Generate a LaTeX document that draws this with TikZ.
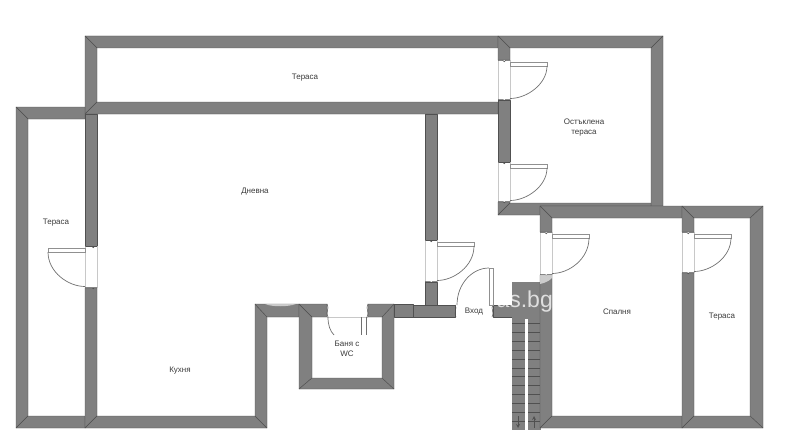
\documentclass[tikz,border=0pt]{standalone}
\usepackage{fontspec}
\setmainfont{Liberation Sans}
\definecolor{wallgray}{HTML}{808080}
\definecolor{walledge}{HTML}{505050}
\definecolor{doorgray}{HTML}{707070}
\definecolor{leafgray}{HTML}{909090}
\definecolor{jambgray}{HTML}{C8C8C8}
\definecolor{labelgray}{HTML}{3A3A3A}
\tikzset{
  wall/.style={fill=wallgray,draw=walledge,line width=0.4pt,line join=round},
  leaf/.style={draw=leafgray,line width=0.7pt},
  swing/.style={draw=doorgray,line width=0.7pt},
  jamb/.style={draw=jambgray,line width=0.8pt},
  notch/.style={draw=walledge,line width=0.5pt},
  room/.style={text=labelgray,font=\fontsize{8}{10.2}\selectfont,align=center,inner sep=0pt},
}
\begin{document}
\begin{tikzpicture}[x=1pt,y=-1pt]
\useasboundingbox (0,0) rectangle (800,444);
% top terrace
\draw[wall] (85,36)--(498,36)--(498,48)--(97,48)--cycle;
\draw[wall] (85,36)--(97,48)--(97,102)--(85,114)--cycle;
\draw[wall] (85,114)--(97,102)--(498,102)--(498,114)--cycle;
% glazed terrace
\draw[wall] (498,36)--(663,36)--(651,48)--(510,48)--cycle;
\draw[wall] (663,36)--(663,206)--(651,206)--(651,48)--cycle;
\draw[wall] (498,36)--(510,48)--(510,60)--(498,60)--cycle;
\draw[wall] (498,100)--(510,100)--(510,162)--(498,162)--cycle;
\draw[wall] (498,202)--(510,202)--(510,203)--(498,215)--cycle;
\draw[wall] (498,215)--(510,203)--(651,203)--(651,206)--(540,206)--(540,215)--cycle;
% left terrace
\draw[wall] (16,107)--(85,107)--(85,119)--(28,119)--cycle;
\draw[wall] (16,107)--(28,119)--(28,416)--(16,428)--cycle;
\draw[wall] (16,428)--(28,416)--(85,416)--(85,428)--cycle;
% living room and kitchen
\draw[wall] (85,114)--(97,114)--(97,246)--(85,246)--cycle;
\draw[wall] (85,288)--(97,288)--(97,416)--(85,428)--cycle;
\draw[wall] (85,428)--(97,416)--(255,416)--(267,428)--cycle;
\draw[wall] (255,304)--(267,317)--(267,428)--(255,416)--cycle;
\draw[wall] (255,304)--(299,304)--(299,317)--(267,317)--cycle;
\draw[wall] (425,114)--(437,114)--(437,240)--(425,240)--cycle;
\draw[wall] (425,282)--(437,282)--(437,305)--(425,305)--cycle;
% bathroom
\draw[wall] (299,304)--(312,317)--(312,378)--(299,389)--cycle;
\draw[wall] (299,389)--(312,378)--(382,378)--(394,389)--cycle;
\draw[wall] (394,304)--(394,389)--(382,378)--(382,317)--cycle;
\draw[wall] (299,304)--(327,304)--(327,317)--(312,317)--cycle;
\draw[wall] (368,304)--(394,304)--(382,317)--(368,317)--cycle;
\draw[wall] (394,304)--(413,304)--(413,317)--(394,317)--cycle;
\draw[wall] (413,305)--(455,305)--(455,317)--(413,317)--cycle;
\draw[wall] (493,305)--(512,305)--(512,317)--(493,317)--cycle;
% stairs
\fill[wallgray] (512,282) rectangle (541,319);
\fill[wallgray] (512,319) rectangle (525,430);
\fill[wallgray] (528,319) rectangle (541,430);
\foreach \s in {0,...,11}
  \draw[walledge,line width=0.5pt] (512,323.3+8.9*\s)--(525,323.3+8.9*\s) (528,323.3+8.9*\s)--(541,323.3+8.9*\s);
\draw[walledge,line width=0.8pt,->,>=stealth] (518,416)--(518,428);
\draw[walledge,line width=0.8pt,->,>=stealth] (534,428)--(534,416);
% bedroom
\draw[wall] (540,206)--(682,206)--(682,218)--(552,218)--cycle;
\draw[wall] (540,206)--(552,218)--(552,232)--(540,232)--cycle;
\draw[wall] (540,275)--(552,275)--(552,416)--(540,428)--cycle;
\draw[wall] (540,428)--(552,416)--(682,416)--(682,428)--cycle;
% right terrace
\draw[wall] (682,206)--(694,218)--(694,232)--(682,232)--cycle;
\draw[wall] (682,273)--(694,273)--(694,416)--(682,428)--cycle;
\draw[wall] (682,206)--(763,206)--(750,218)--(694,218)--cycle;
\draw[wall] (763,206)--(763,428)--(750,416)--(750,218)--cycle;
\draw[wall] (682,428)--(694,416)--(750,416)--(763,428)--cycle;
% doors
\foreach \x/\d/\a/\b in {510/1/60/100,510/1/162/202,437/1/240/282,552/1/232/275,694/1/232/273,85/-1/246/288}{
  \draw[jamb] (\x,\a)--(\x,\b) (\x-\d*12,\a)--(\x-\d*12,\b);
  \draw[notch] (\x-\d*12,\a+0.5)--(\x-\d*7,\a+0.5) arc[start angle=180,end angle=0,radius=1.2]--(\x,\a+0.5);
  \draw[notch] (\x-\d*12,\b-0.5)--(\x-\d*7,\b-0.5) arc[start angle=180,end angle=0,radius=1.2]--(\x,\b-0.5);
  \draw[leaf] (\x,\a+2.5) rectangle (\x+\d*37,\a+6);
  \draw[swing] (\x+\d*37,\a+6) .. controls (\x+\d*37,\b-16) and (\x+\d*17,\b-1.5) .. (\x,\b-1.5);
}
% entrance door
\draw[notch] (455,305) .. controls (458,308) and (453,313) .. (456,317);
\draw[notch] (493,305) .. controls (490,308) and (495,313) .. (492,317);
\draw[leaf] (489,268) rectangle (493,305);
\draw[swing] (489,268) .. controls (472,268) and (457,284) .. (457,305);
% bathroom door
\draw[jamb] (327,317)--(368,317);
\draw[notch] (327,304) .. controls (330,308) and (325,313) .. (328,317);
\draw[notch] (368,304) .. controls (365,308) and (370,313) .. (367,317);
\draw[swing] (328,317) .. controls (328,325) and (330,331) .. (334,335);
\draw[swing] (361,317)--(361,335) (366,317)--(366,335);
% labels
\node[room] (terraceTop) at (305,77.5) {Тераса};
\node[room] (livingRoom) at (255,191.5) {Дневна};
\node[room] (terraceLeft) at (56,222.5) {Тераса};
\node[room] (kitchen) at (180,370.5) {Кухня};
\node[room] (bathroom) at (347,349) {Баня с\\WC};
\node[room] (entrance) at (474,312) {Вход};
\node[room] (bedroom) at (617,312) {Спалня};
\node[room] (terraceRight) at (722,317) {Тераса};
\node[room] (glazedTerrace) at (584,127.5) {Остъклена\\тераса};
% watermark
\fill[white,opacity=0.6] (540,275)--(552,275)--(552,278) .. controls (548,282) and (544,283) .. (540,284)--cycle;
\fill[white,opacity=0.6] (265,304) .. controls (272,307) and (288,307) .. (296,304)--cycle;
\node[text=white,opacity=0.75,font=\fontsize{23}{23}\selectfont,inner sep=0pt,anchor=base east] (watermark) at (553,307) {as.bg};
\end{tikzpicture}
\end{document}
